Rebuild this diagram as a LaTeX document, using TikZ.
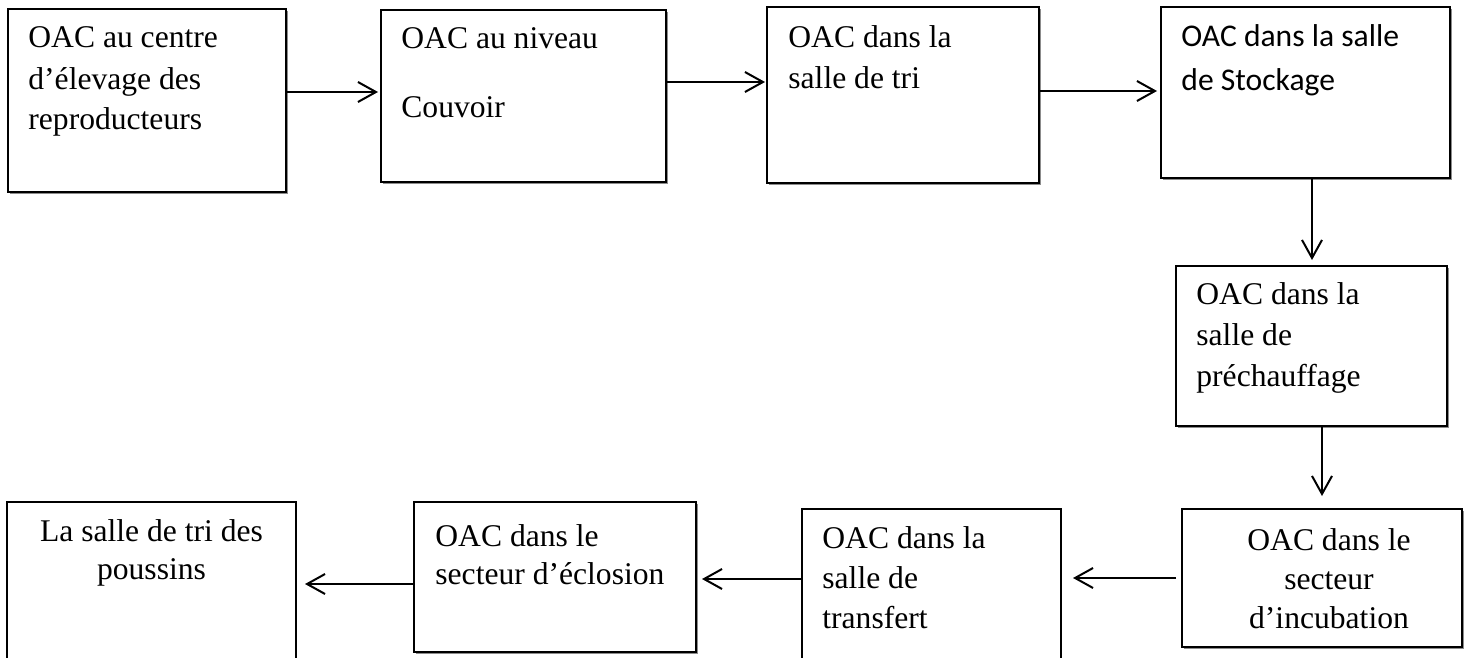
\documentclass[tikz,border=0pt]{standalone}
\usepackage{fontspec}
\setmainfont{Liberation Serif}
\newfontfamily\calibrifont{Carlito}
\usetikzlibrary{arrows.meta,fit,shadows}
\begin{document}
\begin{tikzpicture}[x=0.5pt,y=-0.5pt,
  box/.style={draw=black, line width=1pt, fill=white, inner sep=0pt,
    general shadow={fill=black!45, shadow xshift=1.2pt, shadow yshift=-1.2pt}},
  flatbox/.style={draw=black, line width=1pt, fill=white, inner sep=0pt},
  txt/.style={inner sep=0pt, align=left, anchor=base west,
    font=\fontsize{15.8}{20.5}\selectfont},
  ctxt/.style={txt, align=center, anchor=base},
  arr/.style={line width=1pt, -{Straight Barb[length=9pt,width=10pt,line width=1pt]}}]
\useasboundingbox (0,0) rectangle (1467,658);

% boxes
\node[box, fit={(8,9)(286,192)}] (b1) {};
\node[box, fit={(381,10)(666,182)}] (b2) {};
\node[box, fit={(767,7)(1039,183)}] (b3) {};
\node[box, fit={(1161,7)(1450,178)}] (b4) {};
\node[box, fit={(1176,266)(1447,426)}] (b5) {};
\node[box, fit={(1182,509)(1462,647)}] (b6) {};
\node[flatbox, fit={(802,509)(1061,720)}] (b7) {};
\node[box, fit={(414,502)(696,652)}] (b8) {};
\node[flatbox, fit={(7,502)(296,720)}] (b9) {};

% texts (anchored at the baseline of their last line)
\node[txt] (t1) at ([shift={(21,122)}]b1.north west) {OAC au centre\\d’élevage des\\reproducteurs};
\node[txt] (t2) at ([shift={(21,109)}]b2.north west) {OAC au niveau\\[14pt]Couvoir};
\node[txt] (t3) at ([shift={(22,83)}]b3.north west) {OAC dans la\\salle de tri};
\node[txt, font=\calibrifont\fontsize{15.8}{22}\selectfont] (t4) at ([shift={(21,85)}]b4.north west) {OAC dans la salle\\de Stockage};
\node[txt] (t5) at ([shift={(21,121)}]b5.north west) {OAC dans la\\salle de\\préchauffage};
\node[ctxt, font=\fontsize{15.8}{19.5}\selectfont] (t6) at ([shift={(7,120)}]b6.north) {OAC dans le\\secteur\\d’incubation};
\node[txt, font=\fontsize{15.8}{20}\selectfont] (t7) at ([shift={(21,120)}]b7.north west) {OAC dans la\\salle de\\transfert};
\node[txt, font=\fontsize{15.8}{19}\selectfont] (t8) at ([shift={(22,83)}]b8.north west) {OAC dans le\\secteur d’éclosion};
\node[ctxt, font=\fontsize{15.8}{19}\selectfont] (t9) at ([shift={(0,78)}]b9.north) {La salle de tri des\\poussins};

% connectors
\draw[arr, shorten >=1pt] (b1.east |- 0,92) -- (b2.west |- 0,92);
\draw[arr, shorten >=0.5pt] (b2.east |- 0,82) -- (b3.west |- 0,82);
\draw[arr, shorten >=1.5pt] (b3.east |- 0,91) -- (b4.west |- 0,91);
\draw[arr, shorten >=2.5pt] (b4.south -| 1312,0) -- (b5.north -| 1312,0);
\draw[arr, shorten >=6pt] (b5.south -| 1322,0) -- (b6.north -| 1322,0);
\draw[arr, shorten <=2.5pt, shorten >=5.5pt] (b6.west |- 0,578) -- (b7.east |- 0,578);
\draw[arr, shorten >=2.5pt] (b7.west |- 0,579) -- (b8.east |- 0,579);
\draw[arr, shorten >=4pt] (b8.west |- 0,584) -- (b9.east |- 0,584);
\end{tikzpicture}
\end{document}
